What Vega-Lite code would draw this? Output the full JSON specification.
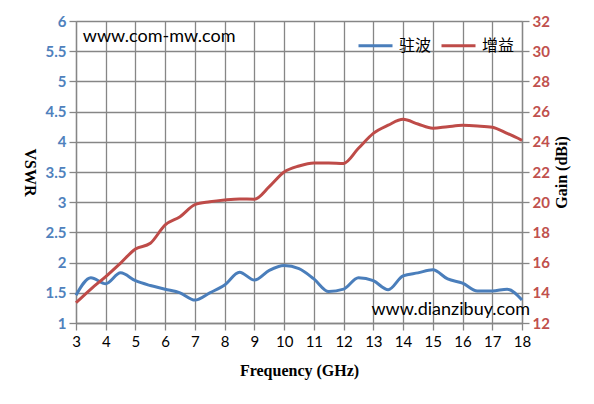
{
  "$schema": "https://vega.github.io/schema/vega-lite/v6.json",
  "width": 446,
  "height": 302,
  "autosize": "none",
  "padding": {"left": 76, "top": 21, "right": 72, "bottom": 81},
  "background": "white",
  "config": {
    "view": {"stroke": null},
    "axis": {
      "gridColor": "#868686",
      "gridWidth": 1.3,
      "domainColor": "#868686",
      "domainWidth": 1.3,
      "tickColor": "#868686",
      "tickWidth": 1.3,
      "tickSize": 7,
      "labelFont": "Lato",
      "labelFontSize": 15,
      "titleFont": "Liberation Serif",
      "titleFontWeight": "bold",
      "titleFontSize": 16,
      "titleColor": "black"
    }
  },
  "data": {
    "values": [
      {"freq": 3, "vswr": 1.46, "gain": 13.34},
      {"freq": 3.5, "vswr": 1.75, "gain": 14.25},
      {"freq": 4, "vswr": 1.65, "gain": 15.07},
      {"freq": 4.5, "vswr": 1.83, "gain": 15.97},
      {"freq": 5, "vswr": 1.7, "gain": 16.9},
      {"freq": 5.5, "vswr": 1.62, "gain": 17.28},
      {"freq": 6, "vswr": 1.56, "gain": 18.5},
      {"freq": 6.5, "vswr": 1.5, "gain": 19.04},
      {"freq": 7, "vswr": 1.38, "gain": 19.84},
      {"freq": 7.5, "vswr": 1.5, "gain": 20.03},
      {"freq": 8, "vswr": 1.63, "gain": 20.15},
      {"freq": 8.5, "vswr": 1.84, "gain": 20.22},
      {"freq": 9, "vswr": 1.71, "gain": 20.2},
      {"freq": 9.5, "vswr": 1.87, "gain": 21.03},
      {"freq": 10, "vswr": 1.95, "gain": 22.0},
      {"freq": 10.5, "vswr": 1.9, "gain": 22.4},
      {"freq": 11, "vswr": 1.73, "gain": 22.6},
      {"freq": 11.5, "vswr": 1.52, "gain": 22.6},
      {"freq": 12, "vswr": 1.56, "gain": 22.57},
      {"freq": 12.5, "vswr": 1.75, "gain": 23.57},
      {"freq": 13, "vswr": 1.7, "gain": 24.56},
      {"freq": 13.5, "vswr": 1.55, "gain": 25.1},
      {"freq": 14, "vswr": 1.78, "gain": 25.49},
      {"freq": 14.5, "vswr": 1.83, "gain": 25.18},
      {"freq": 15, "vswr": 1.88, "gain": 24.9},
      {"freq": 15.5, "vswr": 1.73, "gain": 25.0},
      {"freq": 16, "vswr": 1.66, "gain": 25.09},
      {"freq": 16.5, "vswr": 1.53, "gain": 25.05},
      {"freq": 17, "vswr": 1.53, "gain": 24.96},
      {"freq": 17.5, "vswr": 1.56, "gain": 24.56},
      {"freq": 18, "vswr": 1.38, "gain": 24.1}
    ]
  },
  "encoding": {
    "x": {
      "field": "freq",
      "type": "quantitative",
      "scale": {"domain": [3, 18], "nice": false, "zero": false},
      "axis": {
        "title": "Frequency (GHz)",
        "values": [3,4,5,6,7,8,9,10,11,12,13,14,15,16,17,18],
        "grid": true,
        "labelColor": "black",
        "labelPadding": 4,
        "titlePadding": 13,
        "labelFlush": false
      }
    }
  },
  "layer": [
    {
      "encoding": {
        "y": {
          "field": "vswr",
          "type": "quantitative",
          "scale": {"domain": [1, 6], "nice": false, "zero": false},
          "axis": {
            "orient": "left",
            "title": "VSWR",
            "titleAngle": 90,
            "titlePadding": 24,
            "values": [1, 1.5, 2, 2.5, 3, 3.5, 4, 4.5, 5, 5.5, 6],
            "format": "~g",
            "grid": true,
            "labelOverlap": false,
            "labelColor": "#4F81BD",
            "labelFontWeight": "bold",
            "labelPadding": 3,
            "labelFlush": false
          }
        }
      },
      "layer": [
        {
          "mark": {"type": "line", "interpolate": "monotone", "strokeWidth": 3, "clip": false},
          "encoding": {
            "color": {
              "datum": "驻波",
              "type": "nominal",
              "scale": {"domain": ["驻波", "增益"], "range": ["#4A7EBB", "#BE4B48"]},
              "legend": {
                "title": null,
                "orient": "none",
                "legendX": 281,
                "legendY": 6,
                "direction": "horizontal",
                "symbolType": "stroke",
                "symbolStrokeWidth": 3,
                "symbolSize": 1156,
                "labelFont": "Noto Sans CJK SC",
                "labelFontSize": 16,
                "labelColor": "black",
                "labelOffset": 5,
                "columnPadding": 3
              }
            }
          }
        },
        {
          "data": {"values": [{"site": "www.com-mw.com", "freq": 3.23, "vswr": 5.66}]},
          "mark": {"type": "text", "font": "Lato", "fontSize": 18, "fontWeight": "normal", "align": "left", "baseline": "alphabetic", "color": "black"},
          "encoding": {"text": {"field": "site"}}
        },
        {
          "data": {"values": [{"site": "www.dianzibuy.com", "freq": 18.27, "vswr": 1.13}]},
          "mark": {"type": "text", "font": "Lato", "fontSize": 18, "fontWeight": "normal", "align": "right", "baseline": "alphabetic", "color": "black"},
          "encoding": {"text": {"field": "site"}}
        }
      ]
    },
    {
      "mark": {"type": "line", "interpolate": "monotone", "strokeWidth": 3, "clip": false},
      "encoding": {
        "y": {
          "field": "gain",
          "type": "quantitative",
          "scale": {"domain": [12, 32], "nice": false, "zero": false},
          "axis": {
            "orient": "right",
            "title": "Gain (dBi)",
            "titleAngle": -90,
            "titlePadding": 20,
            "values": [12, 14, 16, 18, 20, 22, 24, 26, 28, 30, 32],
            "grid": false,
            "labelColor": "#C0504D",
            "labelFontWeight": "bold",
            "labelPadding": 3,
            "labelFlush": false
          }
        },
        "color": {"datum": "增益", "type": "nominal"}
      }
    }
  ],
  "resolve": {"scale": {"y": "independent"}}
}
